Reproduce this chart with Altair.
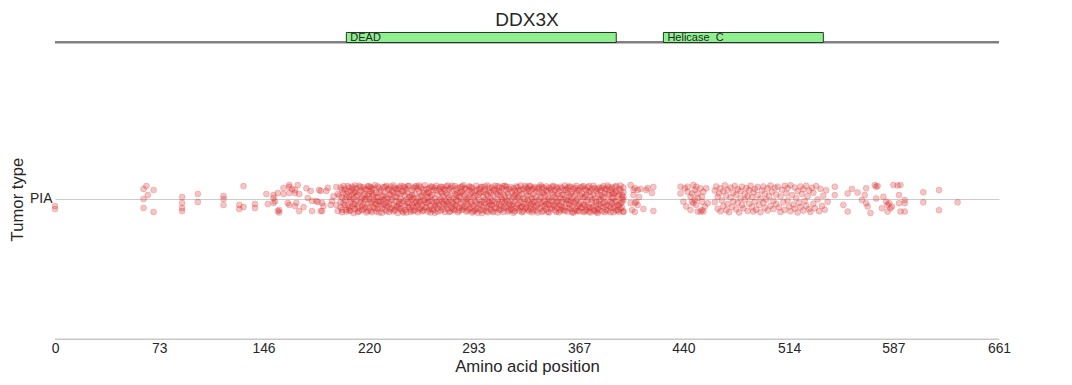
import altair as alt
import pandas as pd

# ---------------- data ----------------
gene = "DDX3X"
protein_length = 661
tumor_type = "PIA"

domain_names = ["DEAD", "Helicase_C"]
domain_starts = [204, 426]
domain_ends = [393, 538]

x_ticks = [0, 73, 146, 220, 293, 367, 440, 514, 587, 661]

# (amino-acid position, strip jitter in thousandths of the category band)
muts_n_term = [
    (0, -25), (0, -36),
    (62, 36), (64, 46), (69, 32), (65, 14), (62, 0), (62, -32), (69, -46),
    (89, 7), (89, -14), (89, -32), (89, -43),
    (100, 18), (100, -11),
    (118, 11), (118, 0), (118, -21),
    (132, 46), (129, -21), (129, -36), (132, -29),
    (140, -18), (140, -32),
    (148, 18), (149, -18),
]

muts_pre_dead = [
    (153, 14), (153, 4), (153, -14), (154, -8), (156, 21), (157, -39), (156, -43), (157, -48),
    (160, 39), (160, 18), (164, 50), (164, 43), (166, 36), (164, 21), (168, 32), (168, 21),
    (170, 50), (171, 18), (171, -43), (163, -14), (164, -21), (169, -14), (168, -25),
    (179, 29), (185, 32), (186, 29), (190, 29), (197, 43), (198, 18), (180, -7), (183, -7),
    (184, -11), (187, -14), (188, -25), (186, -43), (187, -43), (193, -21), (198, -43),
    (197, -21), (194, -7), (177, 4), (174, -29), (180, -43), (191, 40), (195, 10), (176, 38),
]

muts_dead = [
    (199, 12), (200, -30), (200, 41), (201, 5), (201, -47), (202, 22), (202, -15), (203, 35), (203, -3), (204, -38), (204, 17), (205, 46), (205, -22), (206, 8), (206, -41), (207, 29), (207, -9), (208, -27), (208, 44), (209, 2), (209, -50), (210, 25), (210, -18),
    (211, 38), (211, -6), (212, -33), (212, 15), (213, 47), (213, -44), (214, -12), (214, 30), (215, 4), (215, -25), (216, 42), (216, -37), (217, 19), (217, -2), (218, -48), (218, 33), (219, 11), (219, -20), (220, 45), (220, -31), (220, 0),
    (221, 27), (221, -41), (222, -8), (222, 36), (223, 14), (223, -29), (224, 49), (224, -16), (225, -45), (225, 21), (226, 6), (226, -35), (227, 40), (227, -11), (228, -24), (228, 31), (229, -49), (229, 9), (230, 43), (230, -19), (230, -3),
    (231, 24), (231, -38), (232, -14), (232, 47), (233, 3), (233, -27), (234, 37), (234, -46), (235, 16), (235, -5), (236, -33), (236, 29), (237, 48), (237, -21), (238, -40), (238, 10), (239, 34), (239, -9), (240, -28), (240, 20), (240, -50),
    (241, 41), (241, -17), (242, 1), (242, -36), (243, 26), (243, -44), (244, 45), (244, -7), (245, -24), (245, 13), (246, 35), (246, -48), (247, -12), (247, 22), (248, 47), (248, -31), (249, 7), (249, -39), (250, 30), (250, -2), (250, -20),
    (251, 39), (251, -43), (252, -15), (252, 18), (253, 46), (253, -28), (254, 4), (254, -47), (255, 27), (255, -10), (256, -34), (256, 42), (257, 12), (257, -23), (258, -41), (258, 33), (259, -4), (259, 49), (260, -30), (260, 16), (260, -13),
    (261, 23), (261, -45), (262, 38), (262, -8), (263, -26), (263, 9), (264, 44), (264, -37), (265, -16), (265, 31), (266, 2), (266, -49), (267, 47), (267, -21), (268, 15), (268, -33), (269, 36), (269, -6), (270, -42), (270, 25), (270, -1),
    (271, -29), (271, 43), (272, 11), (272, -18), (273, -46), (273, 32), (274, 20), (274, -9), (275, 48), (275, -35), (276, -22), (276, 6), (277, 40), (277, -44), (278, -13), (278, 28), (279, 3), (279, -38), (280, 46), (280, -25), (280, 17),
    (281, -4), (281, 34), (282, -47), (282, 21), (283, 9), (283, -31), (284, 42), (284, -16), (285, -39), (285, 26), (286, -7), (286, 49), (287, 14), (287, -27), (288, -45), (288, 37), (289, 1), (289, -20), (290, 31), (290, -36), (290, 45),
    (291, -11), (291, 19), (292, -48), (292, 40), (293, 5), (293, -24), (294, 28), (294, -41), (295, -14), (295, 47), (296, 13), (296, -32), (297, 36), (297, -3), (298, -19), (298, 23), (299, -50), (299, 44), (300, 8), (300, -28), (300, -40),
    (301, 33), (301, -15), (302, -43), (302, 18), (303, 48), (303, -6), (304, -25), (304, 27), (305, 3), (305, -37), (306, 41), (306, -21), (307, 12), (307, -46), (308, -10), (308, 35), (309, 22), (309, -30), (310, -48), (310, 46), (310, -1),
    (311, -18), (311, 29), (312, 7), (312, -40), (313, 39), (313, -12), (314, -33), (314, 16), (315, 47), (315, -26), (316, -4), (316, 32), (317, -45), (317, 21), (318, 10), (318, -17), (319, 43), (319, -36), (320, -23), (320, 26), (320, 2),
    (321, -49), (321, 38), (322, 14), (322, -8), (323, -31), (323, 45), (324, -20), (324, 5), (325, 30), (325, -42), (326, -13), (326, 48), (327, 19), (327, -27), (328, -44), (328, 36), (329, 0), (329, -35), (330, 24), (330, -16), (330, 41),
    (331, -5), (331, -38), (332, 28), (332, 47), (333, -22), (333, 11), (334, -47), (334, 34), (335, 17), (335, -11), (336, -29), (336, 43), (337, 6), (337, -41), (338, 37), (338, -19), (339, -2), (339, 25), (340, -34), (340, 49), (340, -14),
    (341, 20), (341, -46), (342, -9), (342, 39), (343, -26), (343, 13), (344, 45), (344, -37), (345, -17), (345, 29), (346, 2), (346, -48), (347, 34), (347, -6), (348, -30), (348, 23), (349, 47), (349, -21), (350, -40), (350, 8), (350, 31),
    (351, -13), (351, 42), (352, 18), (352, -34), (353, -47), (353, 27), (354, 4), (354, -24), (355, 38), (355, -10), (356, -39), (356, 15), (357, 48), (357, -28), (358, -3), (358, 33), (359, -45), (359, 21), (360, 10), (360, -18), (360, -32),
    (361, 44), (361, -7), (362, -25), (362, 26), (363, -49), (363, 36), (364, 12), (364, -15), (365, -36), (365, 47), (366, 1), (366, -43), (367, 30), (367, -20), (368, 40), (368, -11), (369, -31), (369, 19), (370, -46), (370, 46), (370, 7),
    (371, -23), (371, 35), (372, 14), (372, -40), (373, -4), (373, 42), (374, 25), (374, -30), (375, -48), (375, 9), (376, -14), (376, 37), (377, 47), (377, -26), (378, 3), (378, -42), (379, 28), (379, -9), (380, -35), (380, 18), (380, -50),
    (381, 41), (381, -19), (382, -2), (382, 31), (383, -44), (383, 11), (384, 46), (384, -28), (385, -12), (385, 22), (386, 36), (386, -38), (387, -6), (387, 48), (388, -24), (388, 15), (389, -47), (389, 33), (390, 5), (390, -16), (390, 40),
    (391, -33), (391, 20), (392, 44), (392, -8), (393, -41), (393, 27), (394, 10), (394, -22), (395, 37), (395, -46), (396, -15), (396, 48), (397, 2), (397, -30), (398, 24),
]

muts_dead_more = [
    (200, -12), (201, 33), (201, -38), (202, 46), (203, -21), (204, 6), (204, -45), (205, 27), (206, -30), (206, 40), (207, -1), (207, -42), (208, 15), (209, 37), (209, -19), (209, 22),
    (210, -36), (210, 48), (211, 10), (212, -25), (212, -47), (213, 24), (214, 43), (214, -3), (215, -40), (216, 13), (216, -18), (217, 36), (217, -30), (218, 0), (219, 46), (219, -43),
    (220, 18), (221, -14), (221, 42), (222, -47), (222, 20), (223, -2), (223, 38), (224, -33), (225, 7), (225, -20), (226, 45), (226, -8), (227, 25), (227, -48), (228, -10), (229, -32),
    (230, 12), (231, 43), (231, 2), (232, -22), (232, -44), (233, 34), (234, -17), (234, 15), (235, -37), (235, 45), (236, -1), (237, 23), (237, -44), (238, 40), (239, -26), (239, 8),
    (240, 36), (241, -8), (241, -33), (242, 18), (242, 47), (243, -15), (244, -48), (244, 27), (245, 41), (245, -39), (246, -2), (247, -28), (247, 46), (248, 8), (248, -15), (249, -46),
    (250, 14), (251, 3), (251, -28), (252, 44), (252, -40), (253, -8), (254, 37), (254, -19), (255, 48), (255, -37), (256, 10), (256, -12), (257, -44), (258, 22), (258, -5), (259, -30),
    (260, 36), (261, -12), (261, 5), (262, -37), (262, 22), (263, 45), (263, -48), (264, -5), (264, 15), (265, -40), (266, 39), (266, -25), (267, -10), (267, 30), (268, -45), (269, -22),
    (270, 44), (271, -9), (271, 20), (272, 37), (272, -37), (273, -4), (274, -24), (274, 45), (275, 14), (275, -14), (276, -46), (276, 34), (277, -3), (278, 47), (278, -33), (279, -18),
    (280, -40), (281, 13), (281, -21), (282, 40), (282, -6), (283, -42), (284, 24), (284, 2), (285, -28), (285, 45), (286, -34), (286, 19), (287, 38), (288, -12), (288, -2), (289, -41),
    (290, 9), (291, 44), (291, -31), (292, -18), (292, 25), (293, -45), (294, -6), (294, 12), (295, -37), (295, 33), (296, -49), (297, 20), (297, -20), (298, 42), (298, -40), (299, -9),
    (300, 26), (301, -3), (301, 45), (302, -30), (303, 13), (303, -47), (304, 40), (304, -12), (305, -20), (305, 22), (306, -6), (306, -44), (307, 31), (308, 47), (308, -34), (309, -16),
    (310, 16), (311, -37), (311, 42), (312, -24), (312, 25), (313, -2), (314, 46), (314, -46), (315, 9), (315, -12), (316, -31), (316, 44), (317, -8), (318, 35), (318, -41), (319, -22),
    (320, -40), (321, -17), (321, 8), (322, 30), (322, -44), (323, 20), (324, -34), (324, 42), (325, -3), (325, 12), (326, -28), (326, 32), (327, -47), (328, 3), (328, -18), (329, 46),
    (330, -30), (331, 13), (331, 36), (332, -14), (332, -44), (333, -35), (333, 45), (334, 2), (334, -18), (335, 38), (335, -40), (336, -6), (337, 26), (337, -24), (338, -48), (339, 42),
    (340, 6), (341, -26), (341, 43), (342, -42), (342, 22), (343, -5), (344, -18), (344, 31), (345, -46), (345, 8), (346, 40), (346, -22), (347, -36), (348, 44), (348, -7), (349, 16),
    (350, -25), (351, 2), (351, -46), (352, 38), (352, -9), (353, -20), (354, 44), (354, -40), (355, 15), (355, -31), (356, -1), (357, 32), (357, -43), (358, -16), (359, 40), (359, -5),
    (360, 45), (361, -36), (361, 18), (362, -47), (362, 3), (363, -12), (364, 40), (364, -42), (365, 22), (365, -5), (366, -26), (366, 32), (367, -44), (368, 12), (368, -30), (369, 44),
    (370, -20), (371, -45), (371, 8), (372, 30), (372, -10), (373, -28), (374, 46), (374, -45), (375, -32), (375, 28), (376, -3), (377, -40), (377, 14), (378, 38), (379, -22), (379, -46),
    (380, 36), (381, -6), (381, -40), (382, 14), (382, -27), (383, 40), (384, -16), (384, 6), (385, -47), (385, 34), (386, -23), (387, 16), (387, -42), (388, 42), (389, -10), (389, -30),
    (390, 25), (391, -47), (391, 4), (392, -28), (392, 22), (393, 46), (393, -10), (394, -40), (395, -22), (395, 14), (396, 32), (396, -35), (397, -12), (398, -44), (398, 41), (398, 8),
]

muts_linker = [
    (397, 14), (398, -4), (398, -46), (403, 50), (405, 32), (406, 39), (408, 32), (410, 36),
    (405, 14), (407, -11), (406, -14), (408, -21), (404, -39), (406, -46), (412, -36), (414, 32),
    (415, 39), (418, 21), (419, 43), (419, -43), (409, 7), (403, -14),
]

muts_helicase = [
    (438, 44), (438, 20), (440, -10), (441, 38), (443, 44), (443, 26), (445, 8), (446, 20),
    (447, 50), (448, 32), (449, 44), (450, 20), (452, 38), (453, 8), (454, 26), (455, -27),
    (453, -39), (452, -45), (454, -45), (449, -21), (447, -15), (445, -39), (448, -4), (453, -10),
    (457, -15), (456, 38), (450, 4), (442, -27), (446, -10), (450, -45),
    (462, 30), (462, -12), (463, 45), (464, -35), (464, 8), (465, 20), (466, -44), (466, 38), (467, -5), (468, 27),
    (468, -25), (469, 49), (470, -40), (470, 12), (471, 33), (471, -18), (472, -47), (473, 5), (473, 41), (474, -29),
    (475, 22), (475, -9), (476, 46), (477, -37), (477, 15), (478, -14), (478, 35), (479, -48), (480, 2), (480, 28),
    (481, -22), (481, 44), (482, -33), (483, 18), (483, -3), (484, 39), (485, -43), (485, 10), (486, 31), (486, -17),
    (487, 47), (488, -28), (488, 6), (489, -45), (489, 24), (490, 36), (490, -10), (491, -38), (492, 14), (492, 43),
    (493, -21), (494, 1), (494, -47), (495, 30), (496, -13), (496, 45), (497, -32), (497, 19), (498, -2), (499, 38),
    (499, -41), (500, 11), (501, -24), (501, 48), (502, 26), (503, -36), (503, -6), (504, 40), (505, -18), (505, 16),
    (506, 44), (507, -30), (508, 9), (508, -46), (509, 33), (510, -12), (511, 47), (511, -39), (512, 20), (513, -5),
    (513, 38), (514, -27), (515, 49), (515, -44), (516, 14), (517, -20), (518, 41), (518, -35), (519, 3), (520, 28),
    (520, -48), (521, -14), (522, 45), (522, -29), (523, 18), (524, -41), (524, 35), (525, -7), (526, 47), (526, -24),
    (527, 10), (528, -36), (528, 30), (529, -46), (530, 40), (531, -17), (531, 22), (532, -33), (533, 46), (534, -2),
    (535, -44), (536, 36), (537, -25), (538, 12), (539, -38), (540, 31), (541, -10),
]

muts_c_term = [
    (546, 44), (546, 14), (552, -21), (555, 20), (555, -45), (558, 36),
    (562, 23), (565, -4), (567, 14), (568, 38), (568, -15), (569, -27), (571, -50), (574, 50),
    (575, 44), (576, 46), (575, 2), (579, -33), (580, 8), (582, -10), (583, -45), (585, -33),
    (587, 50), (590, 48), (592, 50), (591, 14), (591, -15), (592, -45), (595, -4), (595, -15),
    (595, -45), (584, -15), (586, -27), (583, -21),
    (608, 24), (608, -12), (619, 32), (619, -40), (632, -12),
]

# ---------------- tables ----------------
all_muts = (muts_n_term + muts_pre_dead + muts_dead + muts_dead_more
            + muts_linker + muts_helicase + muts_c_term)
points = pd.DataFrame(all_muts, columns=["position", "jitter"])
points["tumor"] = tumor_type

domains = pd.DataFrame({"name": domain_names, "start": domain_starts, "end": domain_ends})
backbone = pd.DataFrame({"start": [0], "end": [protein_length]})

FONT = "Liberation Sans"
TXT = "#262626"
GRID = "#cccccc"
X_TITLE = "Amino acid position"

x_scale = alt.Scale(domain=[0, protein_length], nice=False, zero=False)

strip = alt.Chart(points).mark_circle(
    size=36, color="#d62728", fillOpacity=0.27, stroke="#d62728", strokeOpacity=0.33, strokeWidth=0.6
).encode(
    x=alt.X("position:Q", scale=x_scale, title=X_TITLE,
            axis=alt.Axis(values=x_ticks, grid=False, ticks=False, domain=True,
                          domainColor=GRID, domainWidth=1.2,
                          labelFontSize=13.9, labelColor=TXT,
                          labelFont=FONT, labelPadding=2, labelFlush=False,
                          titleFont=FONT, titleFontSize=16.7, titleFontWeight="normal",
                          titleColor=TXT, titlePadding=4)),
    y=alt.Y("tumor:N", scale=alt.Scale(paddingInner=0, paddingOuter=0),
            axis=alt.Axis(title="Tumor type", ticks=False, domain=False, grid=True,
                          gridColor=GRID, gridWidth=1, bandPosition=0.5,
                          labelFontSize=13.9, labelColor=TXT, labelFont=FONT, labelPadding=3,
                          titleFont=FONT, titleFontSize=16.7, titleFontWeight="normal",
                          titleColor=TXT, titlePadding=3)),
    yOffset=alt.YOffset("jitter:Q", scale=alt.Scale(domain=[500, -500])),
)

# x-axis spine along the bottom of the plot area
spine = alt.Chart(backbone).mark_rect(color="#c8c8c8").encode(
    x=alt.X("start:Q", scale=x_scale, title=X_TITLE),
    x2="end:Q",
    y=alt.value(279.5),
    y2=alt.value(280.8),
)

line = alt.Chart(backbone).mark_rule(color="#808080", strokeWidth=2.5).encode(
    x=alt.X("start:Q", scale=x_scale, title=X_TITLE),
    x2="end:Q",
    y=alt.value(-16.8),
)

boxes = alt.Chart(domains).mark_rect(fill="#90ee90", stroke="#1e3d1e", strokeWidth=1).encode(
    x=alt.X("start:Q", scale=x_scale, title=X_TITLE),
    x2="end:Q",
    y=alt.value(-26.5),
    y2=alt.value(-16.5),
)

labels = alt.Chart(domains).mark_text(
    align="left", baseline="middle", dx=4, fontSize=11, font=FONT, color=TXT
).encode(
    x=alt.X("start:Q", scale=x_scale, title=X_TITLE),
    y=alt.value(-21.5),
    text="name:N",
)

chart = alt.layer(strip, spine, line, boxes, labels).properties(
    width=944,
    height=280,
    title=alt.TitleParams(gene, font=FONT, fontSize=19, fontWeight="normal", color=TXT,
                          anchor="middle", offset=2),
    autosize=alt.AutoSizeParams(type="none"),
    padding={"left": 47, "top": 51, "right": 65, "bottom": 38},
).configure_view(stroke="transparent")

chart.save("out.html", embed_options={"renderer": "svg", "actions": False})
